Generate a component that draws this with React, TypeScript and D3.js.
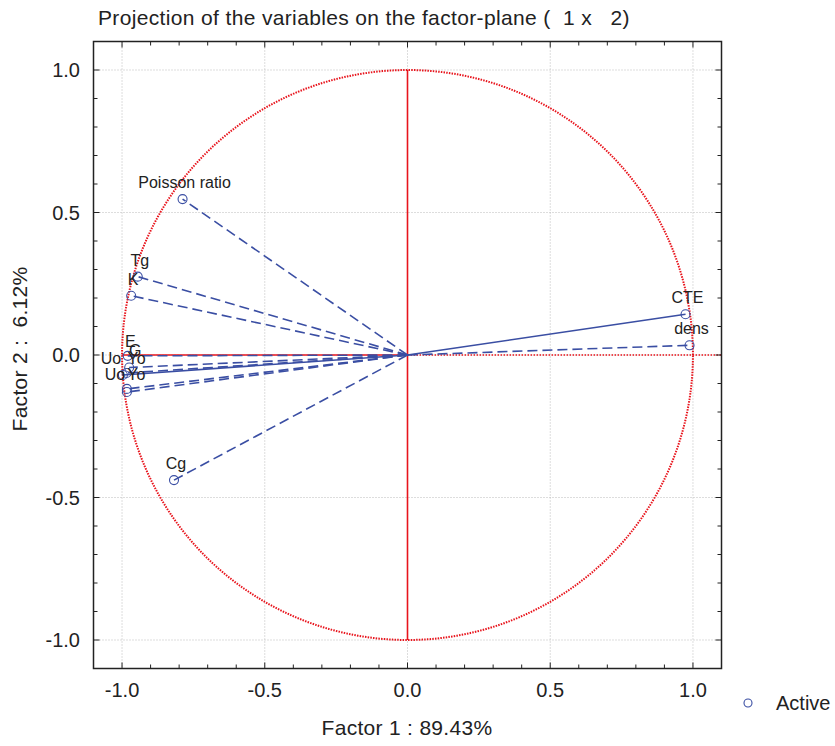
import React from "react";
import * as d3 from "d3";

const variables = ["Poisson ratio", "Tg", "K", "E", "G", "Uo", "Yo", "Uo", "Yo", "Cg", "CTE", "dens"];
const factor1 = [-0.788, -0.945, -0.968, -0.98, -0.975, -0.997, -0.984, -0.983, -0.983, -0.818, 0.974, 0.988];
const factor2 = [0.547, 0.275, 0.208, -0.003, -0.044, -0.07, -0.063, -0.119, -0.13, -0.439, 0.143, 0.034];
const lineSolid = [false, false, false, false, false, true, false, false, false, false, true, false];
const axisTicks = [-1.0, -0.5, 0.0, 0.5, 1.0];

// label offsets (pixels) to reproduce the overlapping cluster labels
const labelOffsets: Record<number, [number, number]> = {
  3: [2.5, -15],
  4: [6, -18],
  5: [-12, -17],
  6: [10, -15],
  7: [-12, -15],
  8: [9.5, -18],
};

const W = 835;
const H = 746;
const left = 93.5, right = 721.5, top = 41.5, bottom = 668.5;
const font = "Arial, 'Liberation Sans', Helvetica, sans-serif";
const blue = "#3a4ea3";
const red = "#e8141c";
const pre = { whiteSpace: "pre" as const };

export default function App() {
  const x = d3.scaleLinear().domain([-1.1, 1.1]).range([left, right]);
  const y = d3.scaleLinear().domain([-1.1, 1.1]).range([bottom, top]);
  const minor = d3.range(-11, 12).map((v) => v / 10);
  const circle = d3.range(0, 361, 1).map((a) => [Math.cos((a * Math.PI) / 180), Math.sin((a * Math.PI) / 180)]);
  const circlePath = d3.line<number[]>().x((d) => x(d[0])).y((d) => y(d[1]))(circle) as string;

  return (
    <svg width={W} height={H} style={{ position: "absolute", left: 0, top: 0, background: "#fff" }} fontFamily={font}>
      <rect width={W} height={H} fill="#fff" />
      <text x={98} y={25} fontSize={21} letterSpacing={0.35} fill="#222" style={pre}>
        {"Projection of the variables on the factor-plane (  1 x   2)"}
      </text>
      {/* grid */}
      {axisTicks.map((t) => (
        <g key={"g" + t}>
          <line x1={x(t)} x2={x(t)} y1={top} y2={bottom} stroke="#bbb" strokeDasharray="1,2" />
          <line x1={left} x2={right} y1={y(t)} y2={y(t)} stroke="#bbb" strokeDasharray="1,2" />
        </g>
      ))}
      {/* unit circle */}
      <path d={circlePath} fill="none" stroke={red} strokeWidth={2} strokeDasharray="1.5,1.2" />
      {/* axes cross */}
      <line x1={x(0)} x2={x(0)} y1={y(1)} y2={y(-1)} stroke={red} strokeWidth={1.6} />
      <line x1={x(-1)} x2={x(0)} y1={y(0)} y2={y(0)} stroke={red} strokeWidth={1.6} />
      <line x1={x(0)} x2={right} y1={y(0)} y2={y(0)} stroke={red} strokeWidth={1.6} strokeDasharray="1.5,1.5" />
      {/* variable vectors */}
      {variables.map((v, i) => (
        <line
          key={"l" + i}
          x1={x(0)}
          y1={y(0)}
          x2={x(factor1[i])}
          y2={y(factor2[i])}
          stroke={blue}
          strokeWidth={1.6}
          strokeDasharray={lineSolid[i] ? undefined : "10,5"}
        />
      ))}
      {variables.map((v, i) => (
        <circle key={"c" + i} cx={x(factor1[i])} cy={y(factor2[i])} r={4.5} fill="none" stroke={blue} strokeWidth={1.1} />
      ))}
      {variables.map((v, i) => {
        const off = labelOffsets[i] || [2, -17];
        return (
          <text
            key={"t" + i}
            x={x(factor1[i]) + off[0]}
            y={y(factor2[i]) + off[1] + 6}
            fontSize={16}
            textAnchor="middle"
            fill="#222"
          >
            {v}
          </text>
        );
      })}
      {/* frame */}
      <rect x={left} y={top} width={right - left} height={bottom - top} fill="none" stroke="#222" strokeWidth={1.5} />
      {/* ticks */}
      {minor.map((t) => {
        const major = Math.abs(Math.round(t * 10) % 5) === 0;
        const len = major ? 6 : 4;
        return (
          <g key={"t" + t} stroke="#222" strokeWidth={1}>
            <line x1={x(t)} x2={x(t)} y1={bottom} y2={bottom - len} />
            <line x1={x(t)} x2={x(t)} y1={top} y2={top + len} />
            <line x1={left} x2={left + len} y1={y(t)} y2={y(t)} />
            <line x1={right} x2={right - len} y1={y(t)} y2={y(t)} />
          </g>
        );
      })}
      {axisTicks.map((t) => (
        <g key={"lab" + t}>
          <text x={x(t)} y={697} fontSize={20} textAnchor="middle" fill="#222">
            {d3.format(".1f")(t).replace("−", "-")}
          </text>
          <text x={80} y={y(t) + 7} fontSize={20} textAnchor="end" fill="#222">
            {d3.format(".1f")(t).replace("−", "-")}
          </text>
        </g>
      ))}
      <text x={407} y={735} fontSize={21} letterSpacing={0.3} textAnchor="middle" fill="#222" style={pre}>
        {"Factor 1 : 89.43%"}
      </text>
      <text transform={`translate(27,349) rotate(-90)`} fontSize={21} letterSpacing={0.3} textAnchor="middle" fill="#222" style={pre}>
        {"Factor 2 :  6.12%"}
      </text>
      {/* legend */}
      <circle cx={748} cy={703} r={4} fill="none" stroke={blue} strokeWidth={1.1} />
      <text x={776} y={710} fontSize={20} fill="#222">
        Active
      </text>
    </svg>
  );
}
